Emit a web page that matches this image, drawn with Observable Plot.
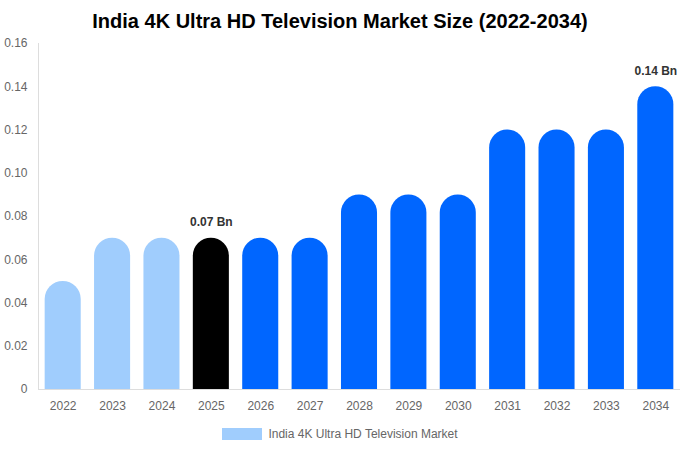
<!DOCTYPE html>
<html><head><meta charset="utf-8">
<script src="https://cdn.jsdelivr.net/npm/d3@7"></script>
<script src="https://cdn.jsdelivr.net/npm/@observablehq/plot@0.6"></script>
<style>
body{margin:0;background:#fff;font-family:"Liberation Sans",Arial,sans-serif;}
#title{height:30px;line-height:42px;text-align:center;font-weight:bold;font-size:20px;color:#000;}
#chart svg{overflow:visible;display:block;}
#legend{display:flex;justify-content:center;align-items:center;font-size:12px;color:#666;margin-top:2px;}
#legend span.sw{display:inline-block;width:40px;height:12px;background:#a0cdfd;margin-right:6px;}
</style></head><body>
<div id="title">India 4K Ultra HD Television Market Size (2022-2034)</div>
<div id="chart"></div>
<div id="legend"><span class="sw"></span><span>India 4K Ultra HD Television Market</span></div>
<script>
const years = ["2022","2023","2024","2025","2026","2027","2028","2029","2030","2031","2032","2033","2034"];
const values = [0.05,0.07,0.07,0.07,0.07,0.07,0.09,0.09,0.09,0.12,0.12,0.12,0.14];
const colors = ["#a0cdfd","#a0cdfd","#a0cdfd","#000000","#0066ff","#0066ff","#0066ff","#0066ff","#0066ff","#0066ff","#0066ff","#0066ff","#0066ff"];
const labels = {"2025":"0.07 Bn","2034":"0.14 Bn"};
const yTicks = [0,0.02,0.04,0.06,0.08,0.10,0.12,0.14,0.16];

const data = years.map((y,i)=>({year:y,value:values[i],color:colors[i]}));
const labeled = data.filter(d=>labels[d.year]);

const plot = Plot.plot({
  width:680, height:395,
  marginTop:13, marginLeft:38, marginRight:0, marginBottom:36,
  style:{fontFamily:"'Liberation Sans',Arial,sans-serif",fontSize:"12px",color:"#666",background:"transparent"},
  x:{domain:years,paddingInner:0.27,paddingOuter:0.135,round:false,label:null},
  y:{domain:[0,0.16],label:null},
  marks:[
    Plot.barY(data,{x:"year",y1:-0.02,y2:"value",fill:"color",rx:18,ry:18,clip:true}),
    Plot.ruleY([0],{stroke:"#ddd"}),
    Plot.frame({anchor:"left",stroke:"#ddd"}),
    Plot.axisY(yTicks,{tickSize:0,tickPadding:11,tickFormat:d=>d===0?"0":d3.format(".2f")(d),fill:"#666",fontSize:12}),
    Plot.axisX(years,{tickSize:0,tickPadding:12,fill:"#666",fontSize:12}),
    Plot.text(labeled,{x:"year",y:"value",text:d=>labels[d.year],dy:-16,fontWeight:"bold",fill:"#333",fontSize:12})
  ]
});
document.getElementById("chart").appendChild(plot);
</script>
</body></html>
